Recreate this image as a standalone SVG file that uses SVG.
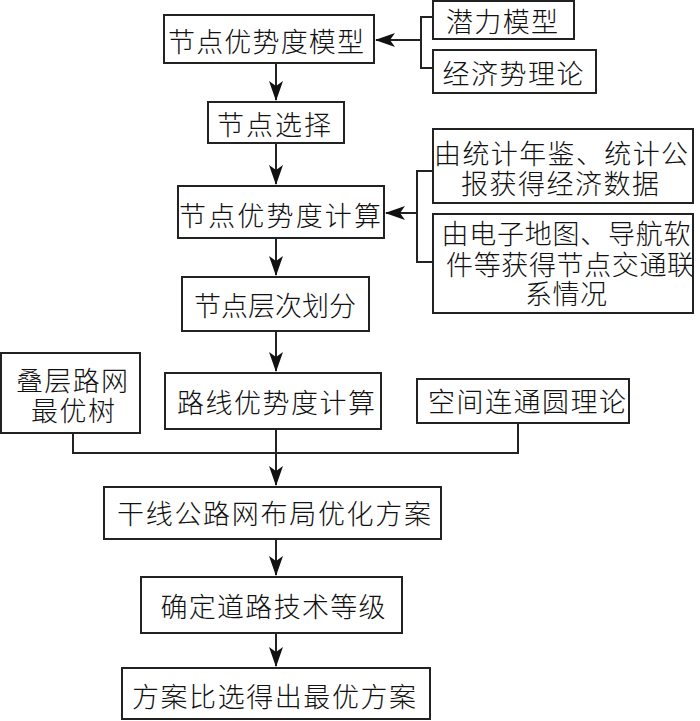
<svg xmlns="http://www.w3.org/2000/svg" width="700" height="721" viewBox="0 0 700 721">
<style>
.box{fill:#fff;stroke:#222;stroke-width:2}
.ln{fill:none;stroke:#222;stroke-width:2}
text{font-family:"Noto Sans CJK SC","Noto Sans CJK JP",sans-serif;font-size:27px;font-weight:300;fill:#111;text-anchor:middle;dominant-baseline:central}
</style>
<defs>
<marker id="ah" markerUnits="userSpaceOnUse" markerWidth="22" markerHeight="16" viewBox="0 -8 20 16" refX="19" refY="0" orient="auto">
<path d="M0,-7 L20,0 L0,7 L5,0 Z" fill="#111"/>
</marker>
</defs>
<rect width="700" height="721" fill="#fff"/>
<g id="connectors">
<path class="ln" d="M276,63 V100" marker-end="url(#ah)"/>
<path class="ln" d="M276,143 V184" marker-end="url(#ah)"/>
<path class="ln" d="M276,238 V275" marker-end="url(#ah)"/>
<path class="ln" d="M276,331 V371" marker-end="url(#ah)"/>
<path class="ln" d="M276,429 V485" marker-end="url(#ah)"/>
<path class="ln" d="M276,539 V575" marker-end="url(#ah)"/>
<path class="ln" d="M276,633 V666" marker-end="url(#ah)"/>
<path class="ln" d="M421,40 H376" marker-end="url(#ah)"/>
<path class="ln" d="M433,17 H421 V68 H433"/>
<path class="ln" d="M417,213 H386" marker-end="url(#ah)"/>
<path class="ln" d="M433,171 H417 V262 H433"/>
<path class="ln" d="M73,433 V453 H518 V423"/>
</g>
<g id="n1"><rect class="box" x="164" y="15" width="210" height="48"/><text x="266" y="40" textLength="196">节点优势度模型</text></g>
<g id="n2"><rect class="box" x="433" y="1" width="141" height="38"/><text x="502" y="20" textLength="112">潜力模型</text></g>
<g id="n3"><rect class="box" x="433" y="50" width="163" height="43"/><text x="513" y="72" textLength="141">经济势理论</text></g>
<g id="n4"><rect class="box" x="208" y="102" width="136" height="41"/><text x="274" y="123" textLength="114">节点选择</text></g>
<g id="n5"><rect class="box" x="178" y="186" width="206" height="52"/><text x="280" y="214" textLength="202">节点优势度计算</text></g>
<g id="n6"><rect class="box" x="433" y="129" width="260" height="74"/><text x="561" y="152" textLength="254">由统计年鉴、统计公</text><text x="560" y="182" textLength="198">报获得经济数据</text></g>
<g id="n7"><rect class="box" x="433" y="214" width="260" height="99"/><text x="566" y="232" textLength="249">由电子地图、导航软</text><text x="570" y="263" textLength="248">件等获得节点交通联</text><text x="566" y="292" textLength="82">系情况</text></g>
<g id="n8"><rect class="box" x="182" y="277" width="187" height="54"/><text x="275" y="304" textLength="162">节点层次划分</text></g>
<g id="n9"><rect class="box" x="1" y="353" width="139" height="80"/><text x="72" y="379" textLength="112">叠层路网</text><text x="73" y="409" textLength="84">最优树</text></g>
<g id="n10"><rect class="box" x="165" y="373" width="216" height="56"/><text x="276" y="401" textLength="198">路线优势度计算</text></g>
<g id="n11"><rect class="box" x="417" y="379" width="212" height="44"/><text x="527" y="400" textLength="198">空间连通圆理论</text></g>
<g id="n12"><rect class="box" x="104" y="487" width="337" height="52"/><text x="274" y="512" textLength="314">干线公路网布局优化方案</text></g>
<g id="n13"><rect class="box" x="141" y="577" width="261" height="56"/><text x="273" y="605" textLength="225">确定道路技术等级</text></g>
<g id="n14"><rect class="box" x="122" y="668" width="308" height="51"/><text x="274" y="695" textLength="284">方案比选得出最优方案</text></g>
</svg>
